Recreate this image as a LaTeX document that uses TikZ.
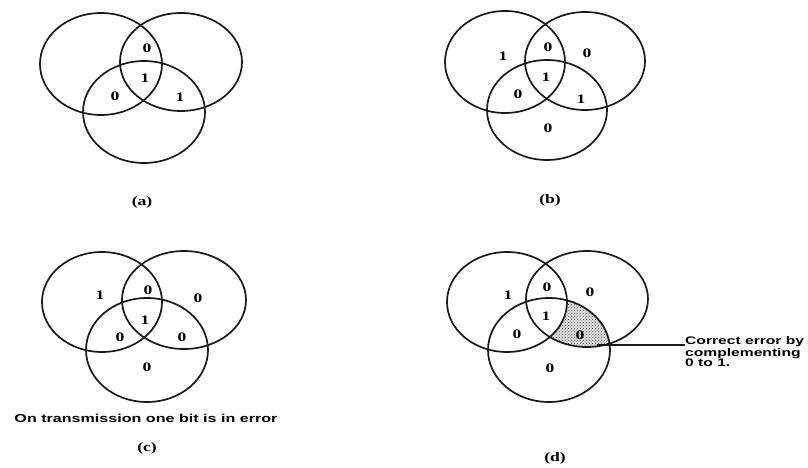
\documentclass[tikz,border=0pt]{standalone}
\usepackage{fontspec}
\usepackage{graphicx}
\setmainfont{Liberation Serif}
\newfontfamily\annfont{Liberation Sans}
\usetikzlibrary{patterns}
\newcommand{\stx}[1]{\scalebox{1.35}[1]{#1}}
\tikzset{
  ring/.style={draw=black!90, line width=1.7pt},
  bit/.style={inner sep=0pt, font=\fontsize{13}{13}\selectfont\bfseries},
  caption/.style={inner sep=0pt, font=\fontsize{13}{13}\selectfont\bfseries},
  note/.style={inner sep=0pt, font=\annfont\bfseries\fontsize{11}{10.5}\selectfont},
}
\begin{document}
\begin{tikzpicture}[x=1pt,y=-1pt]
\useasboundingbox (0,0) rectangle (808,468);
% (a)
\draw[ring] (101,64) ellipse (61 and 51);
\draw[ring] (181,62) ellipse (61 and 49);
\draw[ring] (144,112) ellipse (61 and 51);
\node[bit] (a1) at (147,48) {\stx{0}};
\node[bit] (a2) at (145,78) {\stx{1}};
\node[bit] (a3) at (115,96) {\stx{0}};
\node[bit] (a4) at (180,97) {\stx{1}};
\node[caption] (capa) at (142,202) {\stx{(a)}};
% (b)
\draw[ring] (505,62) ellipse (60 and 51);
\draw[ring] (585,61) ellipse (60 and 49);
\draw[ring] (547,110) ellipse (60 and 50);
\node[bit] (b1) at (503,56) {\stx{1}};
\node[bit] (b2) at (548,47) {\stx{0}};
\node[bit] (b3) at (587,53) {\stx{0}};
\node[bit] (b4) at (546,77) {\stx{1}};
\node[bit] (b5) at (518,94) {\stx{0}};
\node[bit] (b6) at (581,99) {\stx{1}};
\node[bit] (b7) at (548,128) {\stx{0}};
\node[caption] (capb) at (550,200) {\stx{(b)}};
% (c)
\draw[ring] (102,302) ellipse (60 and 50);
\draw[ring] (184,300) ellipse (62 and 49);
\draw[ring] (147,350) ellipse (61 and 52);
\node[bit] (c1) at (100,295) {\stx{1}};
\node[bit] (c2) at (148,290) {\stx{0}};
\node[bit] (c3) at (198,298) {\stx{0}};
\node[bit] (c4) at (145,320) {\stx{1}};
\node[bit] (c5) at (120,337) {\stx{0}};
\node[bit] (c6) at (182,337) {\stx{0}};
\node[bit] (c7) at (147,367) {\stx{0}};
\node[inner sep=0pt, font=\annfont\bfseries\fontsize{11.5}{12}\selectfont] (trans) at (146,418) {\scalebox{1.4}[1]{On transmission one bit is in error}};
\node[caption] (capc) at (147,448) {\stx{(c)}};
% (d)
\begin{scope}
  \clip (587,299) ellipse (61 and 48);
  \clip (549,350) ellipse (61 and 52);
  \fill[even odd rule, black!12]
    (470,230) rectangle (700,420) (507,302) ellipse (60 and 50);
  \fill[even odd rule, pattern=crosshatch dots, pattern color=black!70]
    (470,230) rectangle (700,420) (507,302) ellipse (60 and 50);
\end{scope}
\draw[ring] (507,302) ellipse (60 and 50);
\draw[ring] (587,299) ellipse (61 and 48);
\draw[ring] (549,350) ellipse (61 and 52);
\node[bit] (d1) at (508,295) {\stx{1}};
\node[bit] (d2) at (547,287) {\stx{0}};
\node[bit] (d3) at (590,292) {\stx{0}};
\node[bit] (d4) at (546,316) {\stx{1}};
\node[bit] (d5) at (517,334) {\stx{0}};
\node[bit] (d6) at (580,335) {\stx{0}};
\node[bit] (d7) at (550,368) {\stx{0}};
\node[note, anchor=west] (fix) at (685,353.5) {\scalebox{1.42}[1]{\begin{tabular}{@{}l@{}}Correct error by\\complementing\\0 to 1.\end{tabular}}};
\coordinate (err) at (597,345);
\draw[line width=1.7pt, black!90] (err) -- (err -| fix.west);
\node[caption] (capd) at (555,458) {\stx{(d)}};
\end{tikzpicture}
\end{document}
